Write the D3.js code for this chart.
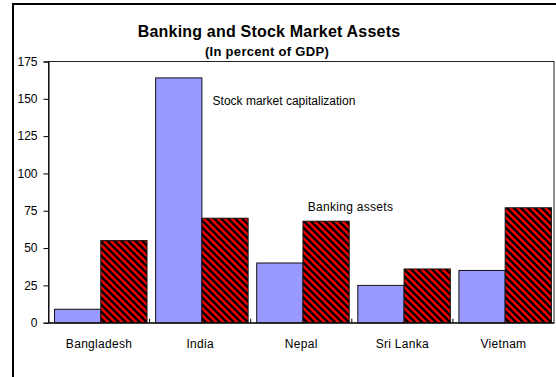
<!DOCTYPE html>
<html>
<head>
<meta charset="utf-8">
<script src="https://cdn.jsdelivr.net/npm/d3@7"></script>
<style>
  html, body { margin: 0; padding: 0; background: #fff; }
  svg { display: block; font-family: Arial, "Liberation Sans", sans-serif; }
</style>
</head>
<body>
<svg id="chart" width="556" height="377"></svg>
<script>
// Banking and stock market assets, percent of GDP
const countries = ["Bangladesh", "India", "Nepal", "Sri Lanka", "Vietnam"];
const stockCap = [9, 164, 40, 25, 35];
const bankAssets = [55, 70, 68, 36, 77];
const yTicks = [0, 25, 50, 75, 100, 125, 150, 175];
const seriesKeys = ["stock", "bank"];

const FONT = 'Arial, "Liberation Sans", sans-serif';
const svg = d3.select("#chart");
const plot = { left: 48.5, right: 554, top: 61.5, bottom: 322.7 };

// outer frame
svg.append("rect")
  .attr("x", 13).attr("y", 4).attr("width", 600).attr("height", 420)
  .attr("fill", "none").attr("stroke", "#000").attr("stroke-width", 2);

// hatch pattern for banking assets
const defs = svg.append("defs");
const P = 7;
const pat = defs.append("pattern")
  .attr("id", "hatch").attr("patternUnits", "userSpaceOnUse")
  .attr("width", P).attr("height", P);
pat.append("rect").attr("width", P).attr("height", P).attr("fill", "#ff0000");
pat.append("path")
  .attr("d", `M-2,-2 L${P + 2},${P + 2} M-2,${P - 2} L2,${P + 2} M${P - 2},-2 L${P + 2},2`)
  .attr("stroke", "#000").attr("stroke-width", 2.6);

const x0 = d3.scaleBand().domain(countries).range([plot.left, plot.right]).padding(0);
const x1 = d3.scaleBand().domain(seriesKeys).range([0, x0.bandwidth()])
  .paddingInner(0).paddingOuter(0.093).align(0.7);
const y = d3.scaleLinear().domain([0, 175]).range([plot.bottom, plot.top]);

// plot frame
svg.append("rect")
  .attr("x", plot.left).attr("y", plot.top)
  .attr("width", plot.right - plot.left).attr("height", plot.bottom - plot.top)
  .attr("fill", "none").attr("stroke", "#222").attr("stroke-width", 1);

// y axis
const yAxis = d3.axisLeft(y).tickValues(yTicks).tickSize(5).tickPadding(6);
const yg = svg.append("g").attr("transform", `translate(${plot.left},0)`).call(yAxis);
yg.select(".domain").attr("stroke", "#000");
yg.selectAll(".tick line").attr("stroke", "#000");
yg.selectAll("text").attr("font-size", 12).attr("fill", "#000").attr("font-family", FONT);

// bars
const rows = countries.map((c, i) => ({ country: c, stock: stockCap[i], bank: bankAssets[i] }));
const groups = svg.append("g").selectAll("g").data(rows).join("g")
  .attr("transform", d => `translate(${x0(d.country)},0)`);
groups.selectAll("rect")
  .data(d => seriesKeys.map(k => ({ key: k, value: d[k] })))
  .join("rect")
  .attr("x", d => x1(d.key))
  .attr("y", d => y(d.value))
  .attr("width", x1.bandwidth())
  .attr("height", d => y(0) - y(d.value))
  .attr("fill", d => d.key === "stock" ? "#9999ff" : "url(#hatch)")
  .attr("stroke", "#111").attr("stroke-width", 1);

// x axis
const xAxis = d3.axisBottom(x0).tickSize(0).tickPadding(17);
const xg = svg.append("g").attr("transform", `translate(0,${plot.bottom})`).call(xAxis);
xg.select(".domain").attr("stroke", "#000");
xg.selectAll("text").attr("font-size", 12).attr("letter-spacing", 0.3)
  .attr("fill", "#000").attr("font-family", FONT);
// category separator ticks (pointing up)
svg.append("g").selectAll("line").data(countries.slice(1)).join("line")
  .attr("x1", d => x0(d)).attr("x2", d => x0(d))
  .attr("y1", plot.bottom).attr("y2", plot.bottom - 4)
  .attr("stroke", "#000");

// titles
svg.append("text").attr("x", 269).attr("y", 37).attr("text-anchor", "middle")
  .attr("font-size", 16).attr("letter-spacing", 0.2).attr("font-weight", "bold")
  .text("Banking and Stock Market Assets");
svg.append("text").attr("x", 267).attr("y", 56).attr("text-anchor", "middle")
  .attr("font-size", 13).attr("letter-spacing", 0.3).attr("font-weight", "bold")
  .text("(In percent of GDP)");

// series labels
svg.append("text").attr("x", x0("India") + 63).attr("y", y(146))
  .attr("font-size", 12).text("Stock market capitalization");
svg.append("text").attr("x", x0("Nepal") + 57).attr("y", y(75))
  .attr("font-size", 12).attr("letter-spacing", 0.3).text("Banking assets");
</script>
</body>
</html>
